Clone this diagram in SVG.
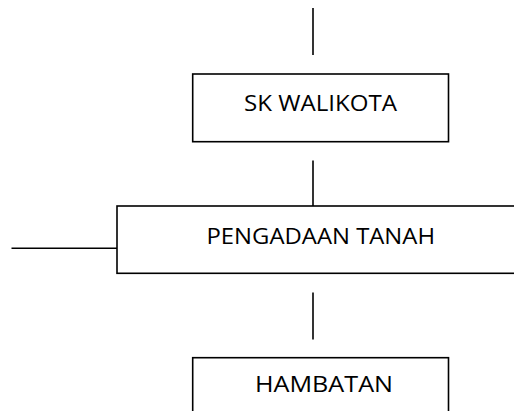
<svg xmlns="http://www.w3.org/2000/svg" width="514" height="411" viewBox="0 0 514 411">
<style>
.box{fill:#fff;stroke:#000;stroke-width:1.6}
.ln{stroke:#000;stroke-width:1.6;fill:none}
.t{font-family:"Open Sans","Liberation Sans",sans-serif;font-size:21px;fill:#000}
</style>
<rect width="514" height="411" fill="#fff"/>
<g id="connectors">
<line class="ln" x1="313" y1="8" x2="313" y2="55"/>
<line class="ln" x1="313" y1="160.5" x2="313" y2="206"/>
<line class="ln" x1="11.5" y1="248.3" x2="117" y2="248.3"/>
<line class="ln" x1="313" y1="292.5" x2="313" y2="339.5"/>
</g>
<g id="sk-walikota">
<rect class="box" x="192.7" y="74" width="255.8" height="67.7"/>
<text class="t" x="244" y="111" textLength="153" lengthAdjust="spacingAndGlyphs">SK WALIKOTA</text>
</g>
<g id="pengadaan-tanah">
<rect class="box" x="117" y="206" width="410" height="67.3"/>
<text class="t" x="206.5" y="243.5" textLength="228.5" lengthAdjust="spacingAndGlyphs">PENGADAAN TANAH</text>
</g>
<g id="hambatan">
<rect class="box" x="192.7" y="357.7" width="255.8" height="70"/>
<text class="t" x="255" y="391.7" textLength="138" lengthAdjust="spacingAndGlyphs">HAMBATAN</text>
</g>
</svg>
